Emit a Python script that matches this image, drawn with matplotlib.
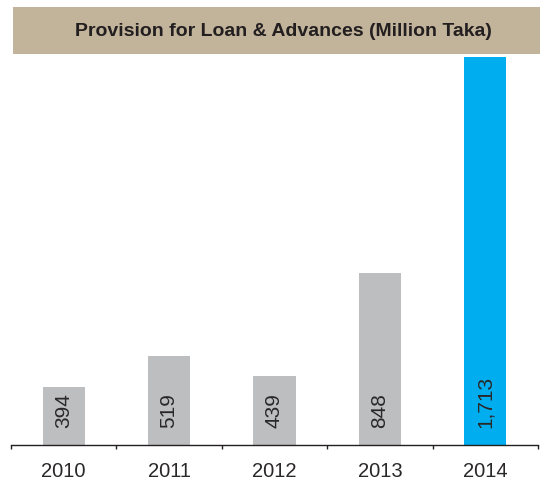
import numpy as np
import matplotlib.pyplot as plt
from matplotlib.patches import Rectangle

years = ['2010', '2011', '2012', '2013', '2014']
provision = [394, 519, 439, 848, 1713]
value_labels = ['394', '519', '439', '848', '1,713']
bar_colors = ['#bcbec0', '#bcbec0', '#bcbec0', '#bcbec0', '#00aeef']

fig = plt.figure(figsize=(5.4, 4.83), dpi=100)
ax = fig.add_axes([11/540, 1 - 445/483, 527/540, 388/483])

x = np.arange(len(years))
ax.bar(x, provision, width=0.4, color=bar_colors, zorder=2)
for xi, lab in zip(x, value_labels):
    ax.text(xi, 162 + 17/0.2502, lab, rotation=90, ha='center', va='bottom',
            fontsize=15, family='Liberation Sans', color='#2a2728')

ax.set_xlim(-0.5, len(years) - 0.5)
ax.set_ylim(162, 1713)
ax.set_xticks(x)
ax.set_xticklabels(years, fontsize=14.5, family='Liberation Sans', color='#2a2728')
ax.set_xticks(np.arange(-0.5, len(years)), minor=True)
ax.tick_params(axis='x', which='major', length=0, pad=12)
ax.tick_params(axis='x', which='minor', length=3, width=1, direction='out', color='#231f20')
ax.set_yticks([])
for s in ['top', 'left', 'right']:
    ax.spines[s].set_visible(False)
ax.spines['bottom'].set_color('#231f20')
ax.spines['bottom'].set_linewidth(1)

# title banner
fig.patches.append(Rectangle((13/540, 1 - 54/483), 1, 47/483, transform=fig.transFigure,
                             facecolor='#c2b49a', edgecolor='none', zorder=0))
fig.text(75/540, 1 - 31/483, 'Provision for Loan & Advances (Million Taka)', ha='left', va='center',
         fontsize=14, fontweight='bold', family='Liberation Sans', color='#231f20')

fig.savefig('out.png', dpi=100)
